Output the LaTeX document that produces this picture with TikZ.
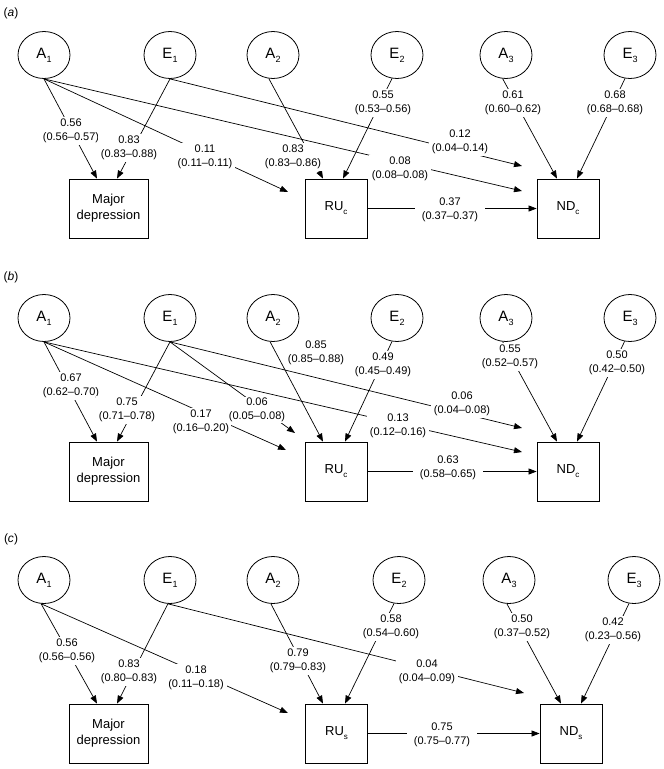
\documentclass[tikz,border=0pt]{standalone}
\usepackage{fontspec}
\setmainfont{Liberation Sans}
\usetikzlibrary{arrows.meta,shapes.geometric}
\newcommand\mysub[1]{\raisebox{-0.28em}{\fontsize{9}{9}\selectfont #1}}
\newcommand\mysubs[1]{\raisebox{-0.3em}{\fontsize{8}{8}\selectfont #1}}
\begin{document}
\begin{tikzpicture}[x=1pt,y=-1pt,
  lat/.style={ellipse,draw,line width=0.8pt,minimum width=52pt,minimum height=47pt,inner sep=0pt,font=\fontsize{15}{18}\selectfont},
  obs/.style={rectangle,draw,line width=0.8pt,minimum height=59pt,inner sep=0pt,font=\fontsize{13}{16}\selectfont,align=center},
  lab/.style={fill=white,inner xsep=3pt,inner ysep=2.5pt,align=center,font=\fontsize{11}{13.5}\selectfont},
  labnf/.style={inner xsep=3pt,inner ysep=2.5pt,align=center,font=\fontsize{11}{13.5}\selectfont},
  hlab/.style={lab,inner xsep=7pt},
  arr/.style={line width=0.7pt,-{Triangle[length=8pt,width=6pt]}},
  panel/.style={font=\fontsize{12}{14}\selectfont}]
\path[use as bounding box] (0,0) rectangle (664,769);

% ---------------- panel (a) ----------------
\node[panel] (pa) at (11,13) {(\textit{a})};
\node[lat] (aA1) at (44,55) {A\mysub{1}};
\node[lat] (aE1) at (170,55) {E\mysub{1}};
\node[lat] (aA2) at (273,55) {A\mysub{2}};
\node[lat] (aE2) at (397,55) {E\mysub{2}};
\node[lat] (aA3) at (506,55) {A\mysub{3}};
\node[lat] (aE3) at (630,55) {E\mysub{3}};
\node[obs,minimum width=79pt] (aMD) at (108.5,208.5) {Major\\depression};
\node[obs,minimum width=62pt] (aRU) at (336,208.5) {RU\mysubs{c}};
\node[obs,minimum width=62pt] (aND) at (568,208.5) {ND\mysubs{c}};
\coordinate (aT1) at (288,192);
\coordinate (aT2) at (522,191);
\coordinate (aT3) at (522,166);

\draw[arr] (aA1.south) -- ([xshift=-11.5pt]aMD.north);
\node[lab] (al1) at (71,131) {0.56\\(0.56–0.57)};
\draw[arr] (aE1.south) -- ([xshift=8.5pt]aMD.north);
\node[lab] (al2) at (129,148) {0.83\\(0.83–0.88)};
\draw[arr] (aA2.260) -- ([xshift=-13pt]aRU.north);
\node[lab] (al6) at (293,157) {0.83\\(0.83–0.86)};
\draw[arr] (aE2.258) -- ([xshift=7pt]aRU.north);
\node[lab] (al7) at (383,103) {0.55\\(0.53–0.56)};
\draw[arr] (aA3.262) -- ([xshift=-11pt]aND.north);
\node[lab] (al8) at (513,103) {0.61\\(0.60–0.62)};
\draw[arr] (aE3.258) -- ([xshift=9pt]aND.north);
\node[lab] (al9) at (615,103) {0.68\\(0.68–0.68)};
\draw[arr] (aRU.east) -- (aND.west);
\node[hlab] (al10) at (450,210) {0.37\\(0.37–0.37)};
\draw[arr] (aA1.south) -- (aT1);
\node[lab] (al3) at (205,157) {0.11\\(0.11–0.11)};
\draw[arr] (aA1.south) -- (aT2);
\node[lab] (al4) at (400,169) {0.08\\(0.08–0.08)};
\draw[arr] (aE1.south) -- (aT3);
\node[lab] (al5) at (460,142) {0.12\\(0.04–0.14)};

% ---------------- panel (b) ----------------
\node[panel] (pb) at (11,277) {(\textit{b})};
\node[lat] (bA1) at (44,318) {A\mysub{1}};
\node[lat] (bE1) at (170,318) {E\mysub{1}};
\node[lat] (bA2) at (273,318) {A\mysub{2}};
\node[lat] (bE2) at (397,318) {E\mysub{2}};
\node[lat] (bA3) at (506,318) {A\mysub{3}};
\node[lat] (bE3) at (630,318) {E\mysub{3}};
\node[obs,minimum width=79pt] (bMD) at (108.5,471.5) {Major\\depression};
\node[obs,minimum width=62pt] (bRU) at (336,471.5) {RU\mysubs{c}};
\node[obs,minimum width=62pt] (bND) at (568,471.5) {ND\mysubs{c}};
\coordinate (bT1) at (286,450);
\coordinate (bT2) at (295,433);
\coordinate (bT3) at (522,452);
\coordinate (bT4) at (522,428);

\draw[arr] (bA1.south) -- ([xshift=-11.5pt]bMD.north);
\node[lab] (bl1) at (71,386) {0.67\\(0.62–0.70)};
\draw[arr] (bE1.south) -- ([xshift=8.5pt]bMD.north);
\node[lab] (bl2) at (127,410) {0.75\\(0.71–0.78)};
\draw[arr] (bA2.263) -- ([xshift=-13pt]bRU.north);
\node[labnf] (bl5) at (316,353) {0.85\\(0.85–0.88)};
\draw[arr] (bE2.258) -- ([xshift=9pt]bRU.north);
\node[lab] (bl6) at (383,365) {0.49\\(0.45–0.49)};
\draw[arr] (bA3.262) -- ([xshift=-11pt]bND.north);
\node[lab] (bl9) at (510,357) {0.55\\(0.52–0.57)};
\draw[arr] (bE3.257) -- ([xshift=9pt]bND.north);
\node[lab] (bl10) at (617,363) {0.50\\(0.42–0.50)};
\draw[arr] (bRU.east) -- (bND.west);
\node[hlab] (bl11) at (448,468) {0.63\\(0.58–0.65)};
\draw[arr] (bA1.south) -- (bT1);
\node[lab,inner xsep=1.5pt] (bl3) at (201,422) {0.17\\(0.16–0.20)};
\draw[arr] (bE1.south) -- (bT2);
\node[lab,inner xsep=1.5pt,inner ysep=1.5pt] (bl4) at (257,410) {0.06\\(0.05–0.08)};
\draw[arr] (bA1.south) -- (bT3);
\node[lab] (bl7) at (398,426) {0.13\\(0.12–0.16)};
\draw[arr] (bE1.south) -- (bT4);
\node[lab] (bl8) at (462,404) {0.06\\(0.04–0.08)};

% ---------------- panel (c) ----------------
\node[panel] (pc) at (11,539) {(\textit{c})};
\node[lat] (cA1) at (44,580) {A\mysub{1}};
\node[lat] (cE1) at (170,580) {E\mysub{1}};
\node[lat] (cA2) at (273,580) {A\mysub{2}};
\node[lat] (cE2) at (399,580) {E\mysub{2}};
\node[lat] (cA3) at (509,580) {A\mysub{3}};
\node[lat] (cE3) at (634,580) {E\mysub{3}};
\node[obs,minimum width=79pt] (cMD) at (108.5,733.5) {Major\\depression};
\node[obs,minimum width=62pt] (cRU) at (336.5,733.5) {RU\mysubs{s}};
\node[obs,minimum width=62pt] (cND) at (571,733.5) {ND\mysubs{s}};
\coordinate (cT1) at (288,713);
\coordinate (cT2) at (524,693);

\draw[arr] (cA1.263) -- ([xshift=-11.5pt]cMD.north);
\node[lab] (cl1) at (67,651) {0.56\\(0.56–0.56)};
\draw[arr] (cE1.265) -- ([xshift=8.5pt]cMD.north);
\node[lab] (cl2) at (129,672) {0.83\\(0.80–0.83)};
\draw[arr] (cA2.265) -- ([xshift=-13.5pt]cRU.north);
\node[lab] (cl4) at (298,661) {0.79\\(0.79–0.83)};
\draw[arr] (cE2.258) -- ([xshift=8.5pt]cRU.north);
\node[lab] (cl5) at (391,627) {0.58\\(0.54–0.60)};
\draw[arr] (cA3.265) -- ([xshift=-10pt]cND.north);
\node[lab] (cl6) at (522,627) {0.50\\(0.37–0.52)};
\draw[arr] (cE3.258) -- ([xshift=10pt]cND.north);
\node[lab] (cl7) at (613,630) {0.42\\(0.23–0.56)};
\draw[arr] (cRU.east) -- (cND.west);
\node[hlab] (cl8) at (442,735) {0.75\\(0.75–0.77)};
\draw[arr] (cA1.263) -- (cT1);
\node[lab] (cl3) at (196,678) {0.18\\(0.11–0.18)};
\draw[arr] (cE1.265) -- (cT2);
\node[lab] (cl9) at (427,672) {0.04\\(0.04–0.09)};
\end{tikzpicture}
\end{document}
